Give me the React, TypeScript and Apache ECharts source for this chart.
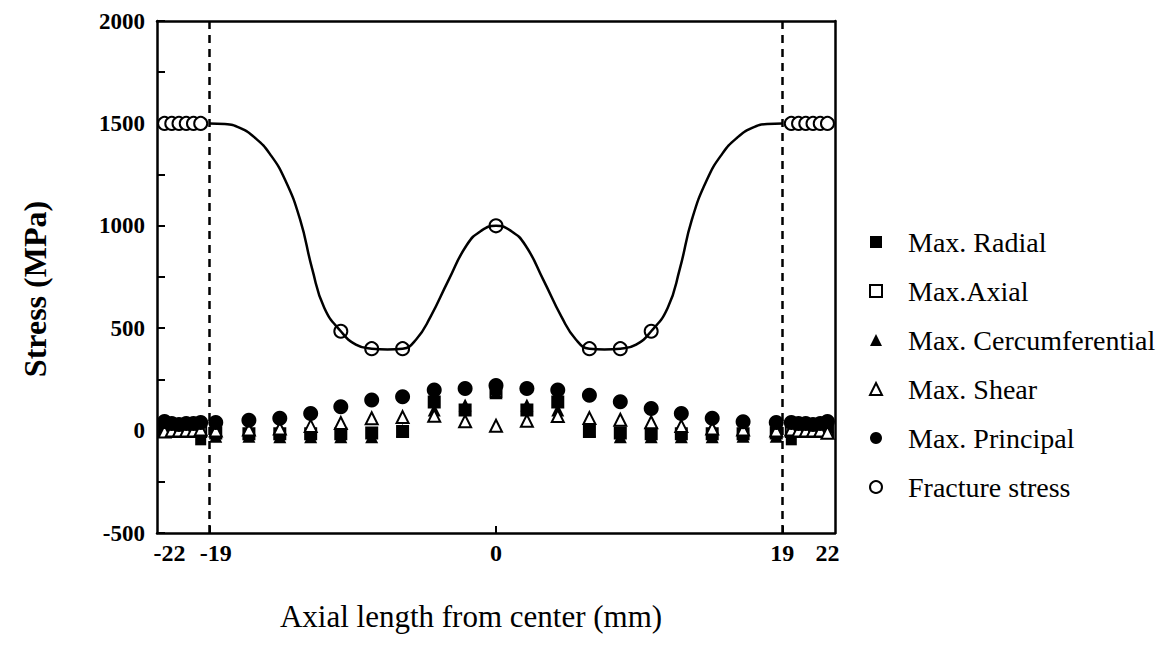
import React, { useEffect, useRef } from "react";
import * as echarts from "echarts";

// Axial positions (mm) of the plotted nodes
const xNodes = [
  -22, -21.52, -21.04, -20.56, -20.08, -19.6,
  -18.6, -16.4, -14.35, -12.3, -10.3, -8.25, -6.2, -4.1, -2.05, 0,
  2.05, 4.1, 6.2, 8.25, 10.3, 12.3, 14.35, 16.4, 18.6,
  19.6, 20.08, 20.56, 21.04, 21.52, 22,
];

// Stress values (MPa) per series, aligned with xNodes
const maxRadial = [15, 10, 10, 10, 5, -45, -12, -15, -15, -15, -15, -12, -5, 140, 100, 200, 100, 140, -5, -12, -15, -15, -15, -15, -12, -45, 5, 10, 10, 10, 15];
const maxAxial = [-5, -5, -5, -5, -5, -5, -12, -15, -15, -15, -15, -12, -5, 140, 100, 190, 100, 140, -5, -12, -15, -15, -15, -15, -12, -5, -5, -5, -5, -5, -5];
const maxCircumferential = [20, 25, 25, 20, 15, 10, -28, -28, -30, -30, -30, -30, 0, 100, 125, 185, 125, 100, 0, -30, -30, -30, -30, -28, -28, 10, 15, 20, 25, 25, 20];
const maxShear = [-5, 0, 0, 0, 0, 5, 0, 5, 10, 23, 37, 60, 66, 72, 46, 24, 48, 71, 61, 53, 41, 22, 10, 5, 0, 5, 0, 0, 0, 0, -10];
const maxPrincipal = [45, 35, 30, 35, 35, 40, 40, 51, 60, 84, 116, 149, 165, 198, 206, 220, 206, 198, 173, 141, 108, 84, 60, 43, 40, 40, 35, 35, 30, 35, 45];

// Fracture stress measured points
const fractureX = [-22, -21.52, -21.04, -20.56, -20.08, -19.6, -10.3, -8.25, -6.2, 0, 6.2, 8.25, 10.3, 19.6, 20.08, 20.56, 21.04, 21.52, 22];
const fractureY = [1500, 1500, 1500, 1500, 1500, 1500, 485, 400, 400, 1000, 400, 400, 485, 1500, 1500, 1500, 1500, 1500, 1500];

// Fracture stress fitted curve
const curveX = [-19, -18, -17, -16, -15, -14, -13, -12.2, -11.4, -10.3, -9.3, -8.25, -7.2, -6.2, -5.3, -4.35, -3.15, -1.95, -1.0, 0, 1.0, 1.95, 3.15, 4.35, 5.3, 6.2, 7.2, 8.25, 9.3, 10.3, 11.4, 12.2, 13, 14, 15, 16, 17, 18, 19];
const curveY = [1500, 1497, 1478, 1430, 1350, 1225, 1030, 790, 600, 485, 420, 400, 396, 400, 445, 555, 735, 905, 975, 1000, 975, 905, 735, 555, 445, 400, 396, 400, 420, 485, 600, 790, 1030, 1225, 1350, 1430, 1478, 1497, 1500];

const xTickLabels = [-22, -19, 0, 19, 22];
const xTickMarks = [-19, 0, 19];
const dashedAt = [-19, 19];

const legendNames = ["Max. Radial", "Max.Axial", "Max. Cercumferential", "Max. Shear", "Max. Principal", "Fracture stress"];

const FONT = "Liberation Serif";

const pair = (xs: number[], ys: number[]) => xs.map((x, i) => [x, ys[i]]);

export default function App() {
  const ref = useRef<HTMLDivElement>(null);
  useEffect(() => {
    if (!ref.current) return;
    const chart = echarts.init(ref.current, null, { renderer: "svg" });
    const black = "#000";
    const openStyle = { color: black, borderColor: black, borderWidth: 2, opacity: 1 };
    const solidStyle = { color: black, opacity: 1 };
    const tickFont = { fontFamily: FONT, fontWeight: "bold", fontSize: 24, color: black };
    const option: any = {
      animation: false,
      backgroundColor: "#fff",
      grid: { left: 157, right: 329, top: 21, bottom: 113 },
      legend: {
        orient: "vertical",
        left: 864,
        top: 223,
        itemWidth: 12,
        itemHeight: 12,
        itemGap: 21,
        selectedMode: false,
        data: legendNames,
        textStyle: { fontFamily: FONT, fontSize: 28, color: black, lineHeight: 28, padding: [0, 0, 0, 21] },
      },
      xAxis: [
        {
          type: "value",
          min: -22.5,
          max: 22.5,
          position: "bottom",
          splitLine: { show: false },
          axisLine: { show: true, onZero: false, lineStyle: { color: black, width: 2.5 } },
          axisTick: { show: true, inside: true, length: 7, customValues: xTickMarks, lineStyle: { color: black, width: 2 } },
          axisLabel: {
            show: true,
            customValues: xTickLabels,
            margin: 8,
            ...tickFont,
            formatter: (v: number) => {
              if (v === -22) return "{a|-22}";
              if (v === -19) return "{b|-19}";
              return "{n|" + v + "}";
            },
            rich: {
              a: { padding: [0, 0, 0, 10], ...tickFont },
              b: { padding: [0, 0, 0, 12], ...tickFont },
              n: { ...tickFont },
            },
          },
          name: "Axial length from center (mm)",
          nameLocation: "middle",
          nameGap: 68,
          nameTextStyle: { fontFamily: FONT, fontSize: 31, color: black, padding: [0, 50, 0, 0] },
        },
        {
          type: "value",
          min: -22.5,
          max: 22.5,
          position: "top",
          splitLine: { show: false },
          axisLine: { show: true, onZero: false, lineStyle: { color: black, width: 2.5 } },
          axisTick: { show: false },
          axisLabel: { show: false },
        },
      ],
      yAxis: [
        {
          type: "value",
          min: -500,
          max: 2000,
          interval: 500,
          position: "left",
          splitLine: { show: false },
          axisLine: { show: true, onZero: false, lineStyle: { color: black, width: 2.5 } },
          axisTick: { show: true, inside: true, length: 8, lineStyle: { color: black, width: 2 } },
          minorTick: { show: true, splitNumber: 2, length: 8, lineStyle: { color: black, width: 2 } },
          axisLabel: { ...tickFont, fontSize: 23, margin: 12, formatter: (v: number) => String(v) },
          name: "Stress (MPa)",
          nameLocation: "middle",
          nameGap: 106,
          nameRotate: 90,
          nameTextStyle: { fontFamily: FONT, fontWeight: "bold", fontSize: 32, color: black, padding: [0, 24, 0, 0] },
        },
        {
          type: "value",
          min: -500,
          max: 2000,
          interval: 500,
          position: "right",
          splitLine: { show: false },
          axisLine: { show: true, onZero: false, lineStyle: { color: black, width: 2.5 } },
          axisTick: { show: false },
          axisLabel: { show: false },
        },
      ],
      series: [
        {
          name: "Max.Axial",
          type: "scatter",
          symbol: "emptyRect",
          symbolSize: 11,
          itemStyle: openStyle,
          data: pair(xNodes, maxAxial),
        },
        {
          name: "Max. Radial",
          type: "scatter",
          symbol: "rect",
          symbolSize: 11,
          itemStyle: solidStyle,
          data: pair(xNodes, maxRadial),
        },
        {
          name: "Max. Cercumferential",
          type: "scatter",
          symbol: "triangle",
          symbolSize: 13,
          itemStyle: solidStyle,
          data: pair(xNodes, maxCircumferential),
        },
        {
          name: "Max. Shear",
          type: "scatter",
          symbol: "emptyTriangle",
          symbolSize: 12,
          itemStyle: openStyle,
          data: pair(xNodes, maxShear),
        },
        {
          name: "Max. Principal",
          type: "scatter",
          symbol: "circle",
          symbolSize: 15,
          itemStyle: solidStyle,
          data: pair(xNodes, maxPrincipal),
        },
        {
          name: "Fracture stress",
          type: "scatter",
          symbol: "emptyCircle",
          symbolSize: 13,
          itemStyle: openStyle,
          data: pair(fractureX, fractureY),
        },
        {
          name: "fracture curve",
          type: "line",
          smooth: 0.5,
          showSymbol: false,
          symbol: "none",
          silent: true,
          lineStyle: { color: black, width: 2.5 },
          data: pair(curveX, curveY),
          markLine: {
            silent: true,
            z: 1,
            symbol: ["none", "none"],
            label: { show: false },
            lineStyle: { type: [8, 6], color: black, width: 2.5 },
            data: dashedAt.map((v) => ({ xAxis: v })),
          },
        },
      ],
    };
    chart.setOption(option);
    return () => chart.dispose();
  }, []);
  return <div ref={ref} style={{ position: "fixed", left: 0, top: 0, width: 1164, height: 646, background: "#fff" }} />;
}
